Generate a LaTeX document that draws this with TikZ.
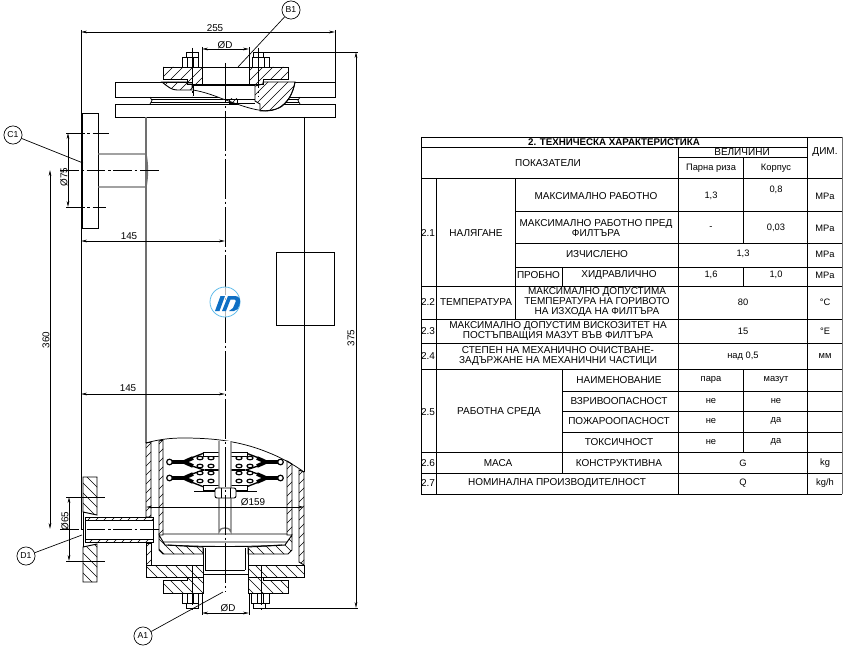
\documentclass[tikz,border=0pt]{standalone}
\usepackage{fontspec}
\setmainfont{Liberation Sans}
\usetikzlibrary{arrows.meta}
\definecolor{shellgray}{HTML}{707070}
\definecolor{logoblue}{HTML}{0E6FC4}
\definecolor{logolight}{HTML}{63BDEB}
\newcommand{\hatchF}[2][10]{\begin{scope}\clip #2;\pgfmathtruncatemacro{\nextstep}{#1}\foreach \i in {0,\nextstep,...,1500}{\draw[hatchline] (\i,0) -- (\i-700,700);}\end{scope}\draw[part] #2;}
\newcommand{\hatchB}[2][10]{\begin{scope}\clip #2;\pgfmathtruncatemacro{\nextstep}{#1-700}\foreach \i in {-700,\nextstep,...,900}{\draw[hatchline] (\i,0) -- (\i+700,700);}\end{scope}\draw[part] #2;}
\tikzset{
 part/.style={draw=black,line width=.7pt},
 hatchline/.style={draw=black,line width=.5pt},
 thinpart/.style={draw=black,line width=.55pt},
 gpart/.style={draw=shellgray,line width=1pt},
 axis/.style={draw=black,line width=.6pt,dash pattern=on 30pt off 2pt on 2pt off 2pt},
 shortaxis/.style={draw=black,line width=.6pt,dash pattern=on 14pt off 2pt on 2pt off 2pt},
 ext/.style={draw=black,line width=.5pt},
 dimline/.style={draw=black,line width=.55pt,{Stealth[length=4.5pt,width=2pt]}-{Stealth[length=4.5pt,width=2pt]}},
 dimtext/.style={font=\fontsize{7.4}{8}\selectfont,inner sep=0pt},
 callout/.style={circle,draw=black,line width=.5pt,fill=white,minimum size=13.6pt,inner sep=0pt,font=\fontsize{6.5}{7}\selectfont},
 leader/.style={draw=black,line width=.5pt},
 grid/.style={draw=black,line width=.6pt},
 cell/.style={font=\fontsize{7.5}{7.5}\selectfont,inner sep=0pt,align=center},
 cellsm/.style={cell,font=\fontsize{7}{7}\selectfont},
 disc/.style={draw=black,line width=1pt},
 discthick/.style={draw=black,line width=2.8pt},
 ear/.style={draw=black,fill=white,line width=.9pt},
}
\begin{document}
\begin{tikzpicture}[x=.75pt,y=-.75pt]
\useasboundingbox[fill=white] (0,0) rectangle (848,649);
% ===== body
\draw[part] (115,82) rectangle (335,97);
\draw[part] (115,104) rectangle (335,117);
\draw[thinpart] (150,97) -- (152,100.5) -- (150,104) (300,97) -- (298,100.5) -- (300,104);
\draw[thinpart] (151,99) -- (299,99) (151,102) -- (299,102);
\draw[gpart] (146,117) -- (146,443);
\draw[part] (304,117) -- (304,472);
\draw[part] (276,252) rectangle (334,325);
% ===== inlet nozzle
\draw[part,fill=white] (82,113) rectangle (98,228);
\draw[gpart] (98,154) -- (146,154) .. controls (148,165) and (148,176) .. (146,187) -- (98,187);
% ===== top cover, cut-away
\fill[white] (193,90) .. controls (205,92) and (215,96) .. (223,99) .. controls (235,103) and (250,110) .. (267,111) .. controls (280,111) and (292,100) .. (295,82) -- (193,82) -- cycle;
\draw[thinpart] (193,90) .. controls (205,92) and (215,96) .. (223,99) .. controls (235,103) and (250,110) .. (267,111) .. controls (280,111) and (292,100) .. (295,82);
\hatchF{(162,82) .. controls (168,87) and (172,90) .. (177,90) -- (192,90) -- (192,84) -- (187,84) -- (187,82) -- cycle}
\hatchF{(255,86) -- (263,84) -- (263,82) -- (295,82) .. controls (293,94) and (287,104) .. (279,108) .. controls (274,110) and (268,111) .. (260,111) -- (260,104) -- (255,101) -- cycle}
\hatchF[5]{(229,99) -- (237,99) -- (237,103.5) -- (229,103.5) -- cycle}
\draw[thinpart] (192,85.5) -- (255,85.5) (193,85.5) -- (193,96) (225,99) -- (255,99) (237,103.5) -- (255,103.5);
\draw[thinpart] (202,67) -- (202,84) -- (249,84) -- (249,67);
\hatchF{(163,67) -- (202,67) -- (202,84) -- (187,84) -- (187,79) -- (163,79) -- cycle}
\hatchF{(249,67) -- (288,67) -- (288,79) -- (263,79) -- (263,84) -- (249,84) -- cycle}
\draw[part] (202,67) -- (249,67);
% top bolts
\draw[part,fill=white] (182,57) rectangle (198,67) (186,52) rectangle (198,57);
\draw[thinpart] (187,57) -- (187,67) (193,57) -- (193,67);
\draw[part,fill=white] (252,57) rectangle (269,67) (253,52) rectangle (263,57);
\draw[thinpart] (258,57) -- (258,67) (264,57) -- (264,67);
% ===== lower shell
\draw[thinpart] (146,443) .. controls (160,439) and (172,438) .. (183,438) .. controls (200,438) and (215,439) .. (227,441) .. controls (245,444) and (257,448) .. (267,452) .. controls (280,457) and (293,464) .. (304,472);
\hatchF[9]{(146,443) -- (151,442) -- (151,517) -- (146,517) -- cycle}
\hatchF[9]{(146,543) -- (151,543) -- (151,565) -- (146,565) -- cycle}
\hatchF[9]{(299,470) -- (304,472) -- (304,565) -- (299,562) -- cycle}
\hatchF[9]{(159,441) -- (163,440) -- (163,535) -- (159,535) -- cycle}
\hatchF[9]{(287,461) -- (292,464) -- (292,535) -- (287,535) -- cycle}
\draw[part] (163,534) -- (287,534) (163,542) -- (287,542) (168,545) .. controls (200,547) and (250,547) .. (282,545);
\hatchB{(159,535) -- (165,545) -- (203,547) -- (203,554) -- (163,554) -- (159,550) -- cycle}
\hatchB{(292,535) -- (285,545) -- (248,547) -- (248,554) -- (288,554) -- (292,550) -- cycle}
\draw[part] (203,548) -- (203,570) (205.5,548) -- (205.5,570) (245,548) -- (245,570) (248,548) -- (248,570);
\draw[thinpart] (205,570) -- (245,570) (203,574) -- (248,574);
\hatchB{(146,565) -- (203,565) -- (203,577) -- (146,577) -- cycle}
\hatchB{(248,565) -- (304,565) -- (304,577) -- (248,577) -- cycle}
\hatchB{(163,580) -- (187,580) -- (187,577) -- (203,577) -- (203,593) -- (163,593) -- cycle}
\hatchB{(248,577) -- (263,577) -- (263,580) -- (288,580) -- (288,593) -- (248,593) -- cycle}
% bottom bolts
\draw[part,fill=white] (182,593) rectangle (198,603) (186,603) rectangle (198,608);
\draw[thinpart] (187,593) -- (187,603) (193,593) -- (193,603);
\draw[part,fill=white] (251,593) rectangle (269,603) (253,603) rectangle (265,608);
\draw[thinpart] (257,593) -- (257,603) (263,593) -- (263,603);
% ===== filter pack
\foreach \s/\c in {1/0,-1/450}{
 \begin{scope}[shift={(\c,0)},xscale=\s]
  \draw[discthick] (172,462) -- (185,462) (172,478) -- (185,478);
  \draw[disc] (186,460) -- (204,453) -- (219,453) (186,464) -- (204,470) -- (186,476) (186,480) -- (204,487) -- (219,487);
  \draw[discthick] (184,462) -- (193,458) (184,462) -- (193,466) (184,478) -- (193,474) (184,478) -- (193,482);
  \draw[ear] (169.5,462) circle (2.8) (169.5,478) circle (2.8);
  \foreach \ex in {200,211} \foreach \ey in {458,466,473,481}
   \draw[ear] (\ex,\ey) ellipse (3 and 1.8);
  \draw[disc] (205,470) -- (219,470);
 \end{scope}
}
\draw[part,fill=white] (203,452) rectangle (247,456);
\draw[part,fill=white] (203,485) rectangle (247,490);
\draw[part] (194,491) -- (257,491);
\draw[gpart,fill=white] (219,441) -- (219,532) arc[start angle=180,end angle=360,x radius=6,y radius=4] -- (231,441);
\draw[part,fill=white,rounded corners=1.5pt] (215,488) rectangle (236,498);
\draw[thinpart] (221,488) -- (221,498) (230,488) -- (230,498);
% ===== outlet nozzle
\hatchB{(83,477) -- (97,477) -- (97,515) -- (83,512) -- cycle}
\hatchB{(83,547) -- (97,544) -- (97,582) -- (83,582) -- cycle}
\draw[part] (83,512) -- (83,547);
\hatchF[8]{(85,517) -- (153,517) -- (153,520) -- (85,520) -- cycle}
\hatchF[8]{(85,539) -- (153,539) -- (153,542.5) -- (85,542.5) -- cycle}
\draw[part] (85,517) -- (85,542.5) (153,517) -- (153,542.5);
% ===== axes
\draw[axis] (225,63) -- (225,592);
\draw[shortaxis] (60,170) -- (159,170);
\draw[shortaxis] (60,529) -- (159,529);
\draw[axis] (192,48) -- (192,96) (258,48) -- (258,97);
\draw[axis] (192,565) -- (192,610) (261,565) -- (261,610);
% ===== dimensions
\draw[ext] (81,30) -- (81,529) (335,30) -- (335,82);
\draw[dimline] (81,32) -- (335,32);
\node[dimtext] (d255) at (215,28) {255};
\draw[ext] (202,47) -- (202,67) (249,47) -- (249,67);
\draw[dimline] (202,49) -- (249,49);
\node[dimtext] (dDtop) at (225,45) {ØD};
\draw[ext] (263,52) -- (358,52) (265,608) -- (358,608);
\draw[dimline] (356,52) -- (356,608);
\node[dimtext,rotate=90] (d375) at (351,338) {375};
\draw[shortaxis] (66,133) -- (109,133);
\draw[shortaxis] (66,207) -- (106,207);
\draw[dimline] (68,133) -- (68,207);
\node[dimtext,rotate=90] (d75) at (64,177) {Ø75};
\draw[dimline] (50,170) -- (50,529);
\node[dimtext,rotate=90] (d360) at (46,340) {360};
\draw[dimline] (81,241) -- (225,241);
\node[dimtext] (d145a) at (129,236) {145};
\draw[dimline] (81,394) -- (225,394);
\node[dimtext] (d145b) at (128,388) {145};
\draw[ext] (66,497) -- (105,497) (66,561) -- (105,561);
\draw[dimline] (69,497) -- (69,561);
\node[dimtext,rotate=90] (d65) at (65,521) {Ø65};
\draw[dimline] (146,507) -- (304,507);
\node[dimtext] (d159) at (253,502) {Ø159};
\draw[ext] (202,593) -- (202,615) (249,593) -- (249,615);
\draw[dimline] (202,613) -- (249,613);
\node[dimtext] (dDbot) at (228,608) {ØD};
% ===== callouts
\node[callout] (B1) at (291,10) {B1};
\node[callout] (C1) at (13,135) {C1};
\node[callout] (D1) at (26,556) {D1};
\node[callout] (A1) at (143,636) {A1};
\coordinate (b1end) at (238,67);
\coordinate (c1end) at (83,163);
\coordinate (d1end) at (82,535);
\coordinate (a1end) at (223,592);
\draw[leader] (B1) -- (b1end);
\draw[leader] (C1) -- (c1end);
\draw[leader] (D1) -- (d1end);
\draw[leader] (A1) -- (a1end);
% ===== logo
\fill[white,opacity=.7] (225,302) circle (15);
\draw[logolight,line width=.6pt] (225,302) circle (15);
\fill[logoblue] (215,311) -- (219.5,311) -- (225,296) -- (220.5,296) -- cycle;
\fill[logoblue] (222,311) -- (226,311) -- (230.5,299.5) -- (234.5,299.5) .. controls (236,299.5) and (236,301) .. (235.5,302) -- (233,308) -- (229,311) -- (234,311) .. controls (237,311) and (238.5,308) .. (239.5,305) .. controls (241,300) and (240,296) .. (235,296) -- (228,296) -- cycle;
% ===== table grid
\draw[grid] (421,137) -- (842,137) (421,147) -- (807,147) (678,157) -- (807,157)
 (421,178) -- (842,178) (515,211) -- (842,211) (515,243) -- (842,243) (515,267) -- (842,267)
 (421,286) -- (842,286) (421,319) -- (842,319) (421,343) -- (842,343) (421,369) -- (842,369)
 (562,391) -- (842,391) (562,411) -- (842,411) (562,432) -- (842,432)
 (421,452) -- (842,452) (421,473) -- (842,473) (421,494) -- (842,494);
\draw[grid] (421,137) -- (421,494) (436,178) -- (436,494) (515,178) -- (515,319)
 (562,267) -- (562,286) (562,369) -- (562,473) (678,147) -- (678,494)
 (743,157) -- (743,243) (743,267) -- (743,286) (743,369) -- (743,452)
 (807,137) -- (807,494);
\draw[draw=shellgray,line width=.6pt] (842,137) -- (842,494);
% ===== table text
\node[cell,font=\bfseries\fontsize{7.3}{8}\selectfont] (t0) at (614,142) {2. ТЕХНИЧЕСКА ХАРАКТЕРИСТИКА};
\node[cell] (t1) at (548,163) {ПОКАЗАТЕЛИ};
\node[cell] (t2) at (742,152) {ВЕЛИЧИНИ};
\node[cell] (t3) at (825,152) {ДИМ.};
\node[cellsm] (t4) at (711,168) {Парна риза};
\node[cellsm] (t5) at (776,168) {Корпус};
\node[cell] (t6) at (428,233) {2.1};
\node[cell] (t7) at (476,233) {НАЛЯГАНЕ};
\node[cell] (t8) at (596,196) {МАКСИМАЛНО РАБОТНО};
\node[cellsm] (t9) at (711,196) {1,3};
\node[cellsm] (t10) at (776,190) {0,8};
\node[cellsm] (t11) at (825,196) {MPa};
\node[cell] (t12) at (596,228) {МАКСИМАЛНО РАБОТНО ПРЕД\\ФИЛТЪРА};
\node[cellsm] (t13) at (711,228) {-};
\node[cellsm] (t14) at (776,228) {0,03};
\node[cellsm] (t15) at (825,228) {MPa};
\node[cell] (t16) at (597,254) {ИЗЧИСЛЕНО};
\node[cellsm] (t17) at (743,254) {1,3};
\node[cellsm] (t18) at (825,254) {MPa};
\node[cell] (t19) at (538.5,275) {ПРОБНО};
\node[cell] (t20) at (619,275) {ХИДРАВЛИЧНО};
\node[cellsm] (t21) at (711,275) {1,6};
\node[cellsm] (t22) at (776,275) {1,0};
\node[cellsm] (t23) at (825,275) {MPa};
\node[cell] (t24) at (428,302) {2.2};
\node[cell] (t25) at (476,302) {ТЕМПЕРАТУРА};
\node[cell] (t26) at (597,302) {МАКСИМАЛНО ДОПУСТИМА\\ТЕМПЕРАТУРА НА ГОРИВОТО\\НА ИЗХОДА НА ФИЛТЪРА};
\node[cellsm] (t27) at (743,302) {80};
\node[cellsm] (t28) at (825,302) {°C};
\node[cell] (t29) at (428,331) {2.3};
\node[cell,font=\fontsize{7.5}{6.9}\selectfont] (t30) at (558,331) {МАКСИМАЛНО ДОПУСТИМ ВИСКОЗИТЕТ НА\\ПОСТЪПВАЩИЯ МАЗУТ ВЪВ ФИЛТЪРА};
\node[cellsm] (t31) at (743,331) {15};
\node[cellsm] (t32) at (825,331) {°E};
\node[cell] (t33) at (428,356) {2.4};
\node[cell,font=\fontsize{7.5}{6.9}\selectfont] (t34) at (558,356) {СТЕПЕН НА МЕХАНИЧНО ОЧИСТВАНЕ-\\ЗАДЪРЖАНЕ НА МЕХАНИЧНИ ЧАСТИЦИ};
\node[cellsm] (t35) at (743,356) {над 0,5};
\node[cellsm] (t36) at (825,356) {мм};
\node[cell] (t37) at (428,412) {2.5};
\node[cell] (t38) at (499,412) {РАБОТНА СРЕДА};
\node[cell] (t39) at (619,380) {НАИМЕНОВАНИЕ};
\node[cellsm] (t40) at (711,380) {пара};
\node[cellsm] (t41) at (776,380) {мазут};
\node[cell] (t42) at (619,401) {ВЗРИВООПАСНОСТ};
\node[cellsm] (t43) at (711,401) {не};
\node[cellsm] (t44) at (776,401) {не};
\node[cell] (t45) at (619,421) {ПОЖАРООПАСНОСТ};
\node[cellsm] (t46) at (711,421) {не};
\node[cellsm] (t47) at (776,421) {да};
\node[cell] (t48) at (619,442) {ТОКСИЧНОСТ};
\node[cellsm] (t49) at (711,442) {не};
\node[cellsm] (t50) at (776,442) {да};
\node[cell] (t51) at (428,463) {2.6};
\node[cell] (t52) at (498,463) {МАСА};
\node[cell] (t53) at (619,463) {КОНСТРУКТИВНА};
\node[cellsm] (t54) at (743,463) {G};
\node[cellsm] (t55) at (825,463) {kg};
\node[cell] (t56) at (428,483) {2.7};
\node[cell] (t57) at (557,483) {НОМИНАЛНА ПРОИЗВОДИТЕЛНОСТ};
\node[cellsm] (t58) at (743,483) {Q};
\node[cellsm] (t59) at (825,483) {kg/h};
\end{tikzpicture}
\end{document}
